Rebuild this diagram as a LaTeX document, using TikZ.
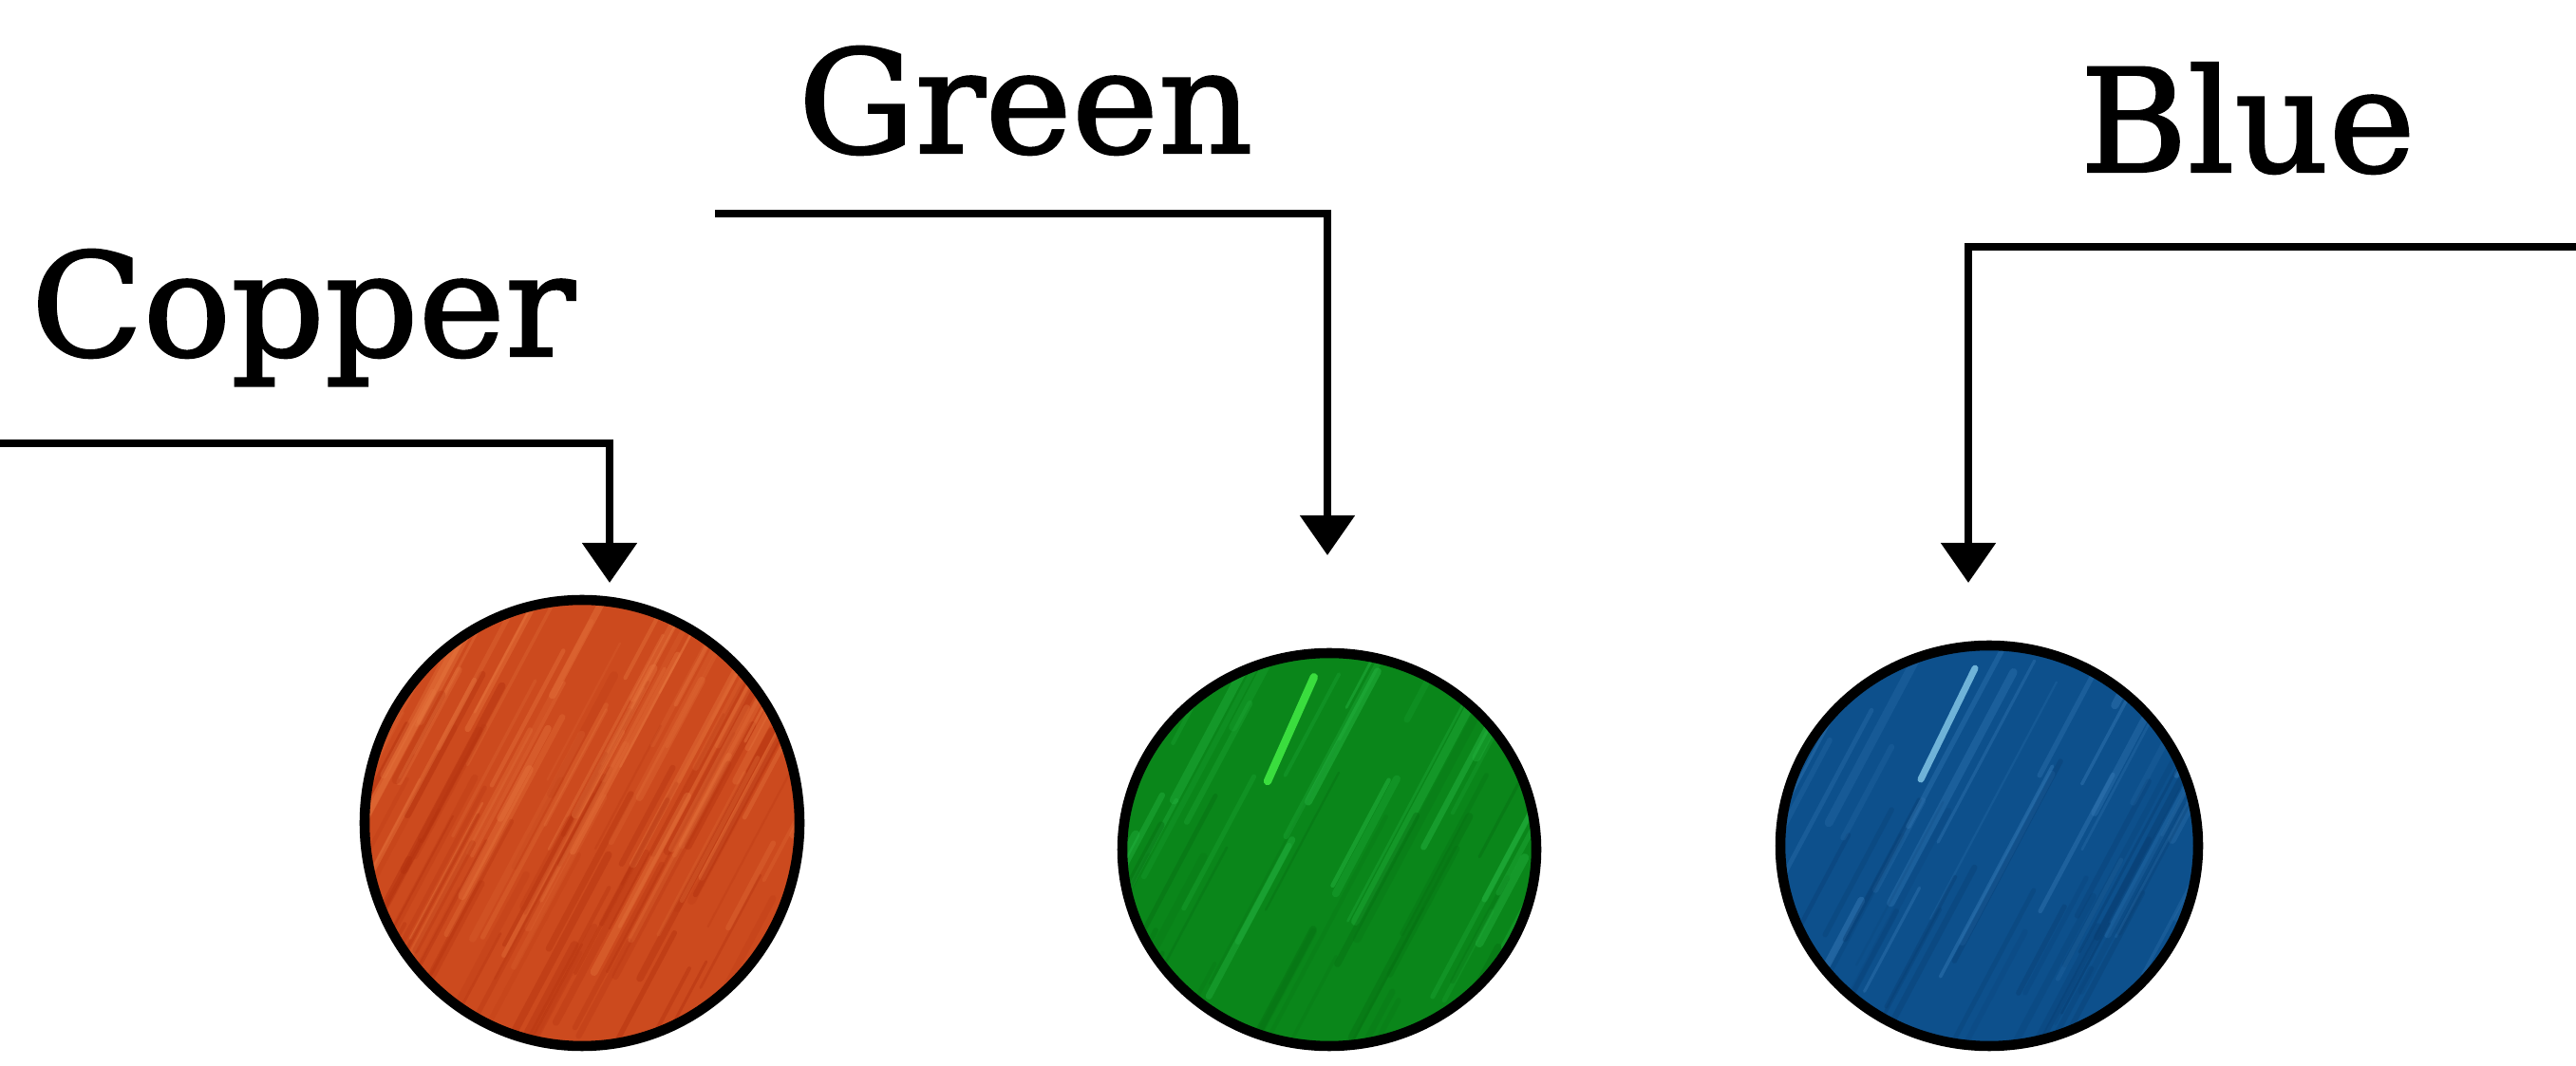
\documentclass[tikz,border=0pt]{standalone}
\usepackage{fontspec}
\usepackage{tikz}
\usetikzlibrary{arrows.meta, calc, shapes.geometric}
\newfontfamily\lblfont[FakeStretch=1.02, FakeBold=1.6]{DejaVu Serif}

\definecolor{cubase}{RGB}{204,74,30}
\definecolor{culight}{RGB}{232,120,64}
\definecolor{cudark}{RGB}{178,48,14}
\definecolor{grbase}{RGB}{10,134,26}
\definecolor{grlight}{RGB}{40,186,70}
\definecolor{grdark}{RGB}{6,110,18}
\definecolor{blbase}{RGB}{13,80,140}
\definecolor{bllight}{RGB}{60,128,188}
\definecolor{bldark}{RGB}{8,60,112}

% brushed streaks inside a disc: light colour, dark colour, seed, count
\newcommand{\brushed}[4]{%
  \pgfmathsetseed{#3}
  \foreach \i in {1,...,#4} {
    \pgfmathsetmacro{\u}{2.6*rand}
    \pgfmathsetmacro{\v}{1.6*rand}
    \pgfmathsetmacro{\w}{0.6+2*rnd}
    \pgfmathsetmacro{\o}{0.15+0.3*rnd}
    \pgfmathsetmacro{\len}{1+2*rnd}
    \ifodd\i
      \draw[#1, line width=\w pt, opacity=\o, line cap=round]
        ($(path picture bounding box.center)+(\u,\v)$) -- ++(62:\len);
    \else
      \draw[#2, line width=\w pt, opacity=\o, line cap=round]
        ($(path picture bounding box.center)+(\u,\v)$) -- ++(242:\len);
    \fi
  }
}

\tikzset{
  disc/.style={ellipse, draw=black, line width=3pt, inner sep=0pt},
  lead/.style={line width=2.4pt, -{Triangle[width=5.6mm, length=4.2mm]}},
  lbl/.style={font=\lblfont\fontsize{43}{50}\selectfont, inner sep=0pt, anchor=base west},
}

\begin{document}
\begin{tikzpicture}
    \useasboundingbox (0, 0) rectangle (27.13, 11.23);

    % Labels
    \node[lbl] (cutext) at (0.32, 7.48) {Copper};
    \node[lbl] (grtext) at (8.40, 9.62) {Green};
    \node[lbl] (bltext) at (21.90, 9.42) {Blue};

    % Discs
    \node[disc, fill=cubase, minimum width=4.58cm, minimum height=4.70cm,
      path picture={\brushed{culight}{cudark}{11}{160}}] (copper) at (6.13, 2.56) {};
    \node[disc, fill=grbase, minimum width=4.36cm, minimum height=4.14cm,
      path picture={\brushed{grlight}{grdark}{23}{70}
        \draw[green!70!white!90!grbase, line width=2.4pt, opacity=0.8, line cap=round]
          ($(path picture bounding box.center)+(-0.65, 0.72)$) -- ++(66:1.2);}] (green) at (14.00, 2.28) {};
    \node[disc, fill=blbase, minimum width=4.40cm, minimum height=4.22cm,
      path picture={\brushed{bllight}{bldark}{37}{70}
        \draw[cyan!40!white, line width=2pt, opacity=0.7, line cap=round]
          ($(path picture bounding box.center)+(-0.72, 0.70)$) -- ++(64:1.3);}] (blue) at (20.95, 2.32) {};

    % Ends of the leaders
    \coordinate (custart) at (0, 6.56);
    \coordinate (cutip) at (6.42, 5.09);
    \coordinate (grstart) at (7.53, 8.98);
    \coordinate (grtip) at (13.98, 5.38);
    \coordinate (blstart) at (27.13, 8.63);
    \coordinate (bltip) at (20.73, 5.09);

    % Leaders
    \draw[lead] (custart) -| (cutip);
    \draw[lead] (grstart) -| (grtip);
    \draw[lead] (blstart) -| (bltip);
\end{tikzpicture}
\end{document}
